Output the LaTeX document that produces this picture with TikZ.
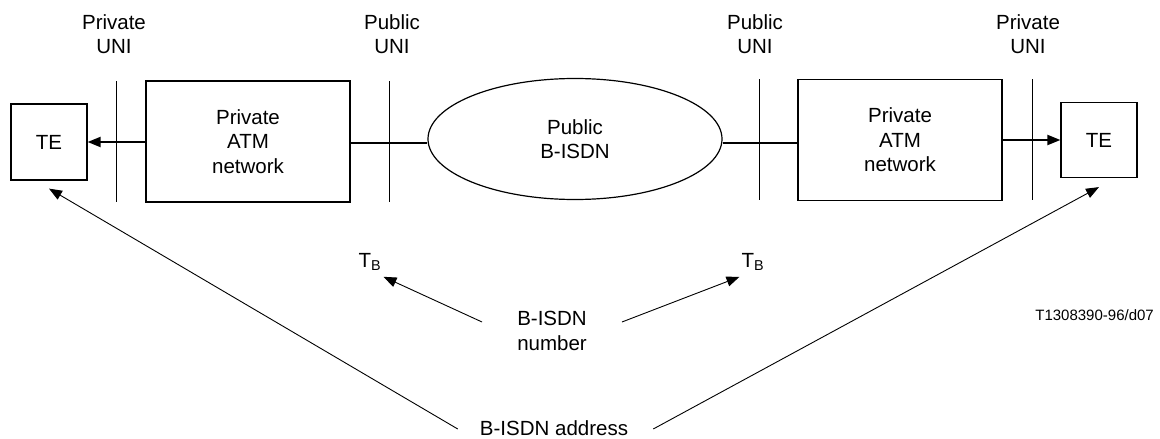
\documentclass[tikz,border=0pt]{standalone}
\usepackage{fontspec}
\setmainfont{Liberation Sans}
\usetikzlibrary{shapes.geometric,arrows.meta}
\begin{document}
\begin{tikzpicture}[x=1pt,y=-1pt,
  lbl/.style={font=\fontsize{20.5}{24.5}\selectfont, align=center, inner sep=0pt},
  box/.style={draw, line width=1.2pt, inner sep=0pt, font=\fontsize{20.5}{24.5}\selectfont, align=center},
  uni/.style={line width=1pt},
  link/.style={line width=2pt},
  tip/.style={-{Triangle[length=13pt,width=10pt]}},
  ptr/.style={line width=0.9pt, tip},
]
\useasboundingbox (0,0) rectangle (1160,439);
% boxes
\node[box, minimum width=76pt, minimum height=76pt] (te1) at (49,142) {TE};
\node[box, minimum width=204pt, minimum height=121pt] (atm1) at (248,141.5) {Private\\ATM\\network};
\node[box, ellipse, minimum width=294pt, minimum height=121pt] (isdn) at (575,139) {Public\\B-ISDN};
\node[box, minimum width=204pt, minimum height=121pt] (atm2) at (900,140) {Private\\ATM\\network};
\node[box, minimum width=76pt, minimum height=75pt] (te2) at (1099,140) {TE};
% UNI labels
\node[lbl] (l1) at (114,34) {Private\\UNI};
\node[lbl] (l2) at (392,34) {Public\\UNI};
\node[lbl] (l3) at (755,34) {Public\\UNI};
\node[lbl] (l4) at (1028,34) {Private\\UNI};
% UNI lines
\coordinate (u1t) at (116,81);  \coordinate (u1b) at (116,202);
\coordinate (u2t) at (389,81);  \coordinate (u2b) at (389,202);
\coordinate (u3t) at (759,79);  \coordinate (u3b) at (759,200);
\coordinate (u4t) at (1032,79); \coordinate (u4b) at (1032,200);
\draw[uni] (u1t) -- (u1b);
\draw[uni] (u2t) -- (u2b);
\draw[uni] (u3t) -- (u3b);
\draw[uni] (u4t) -- (u4b);
% links
\draw[link, tip] (atm1.west |- te1.east) -- (te1.east);
\draw[link] (atm1.east |- 0,143) -- (isdn.west |- 0,143);
\draw[link] (isdn.east |- 0,143) -- (atm2.west |- 0,143);
\draw[link, tip] (atm2.east |- te2.west) -- (te2.west);
% lower labels
\node[lbl] (tb1) at (370,262) {T\textsubscript{B}};
\node[lbl] (tb2) at (753,262) {T\textsubscript{B}};
\node[lbl] (num) at (552,331) {B-ISDN\\number};
\node[lbl] (addr) at (554,428) {B-ISDN address};
\node[inner sep=0pt, anchor=east, font=\fontsize{15}{18}\selectfont] (ref) at (1154,315) {T1308390-96/d07};
% pointers
\draw[ptr] ([shift={(-35pt,9pt)}]num.west) -- ([shift={(2pt,-6pt)}]tb1.south east);
\draw[ptr] ([shift={(35pt,9pt)}]num.east) -- ([shift={(-25pt,-6pt)}]tb2.south east);
\draw[ptr] ([shift={(-22pt,-1pt)}]addr.west) -- ([yshift=-8pt]te1.south);
\draw[ptr] ([shift={(25pt,-1pt)}]addr.east) -- ([yshift=-9pt]te2.south);
\end{tikzpicture}
\end{document}
